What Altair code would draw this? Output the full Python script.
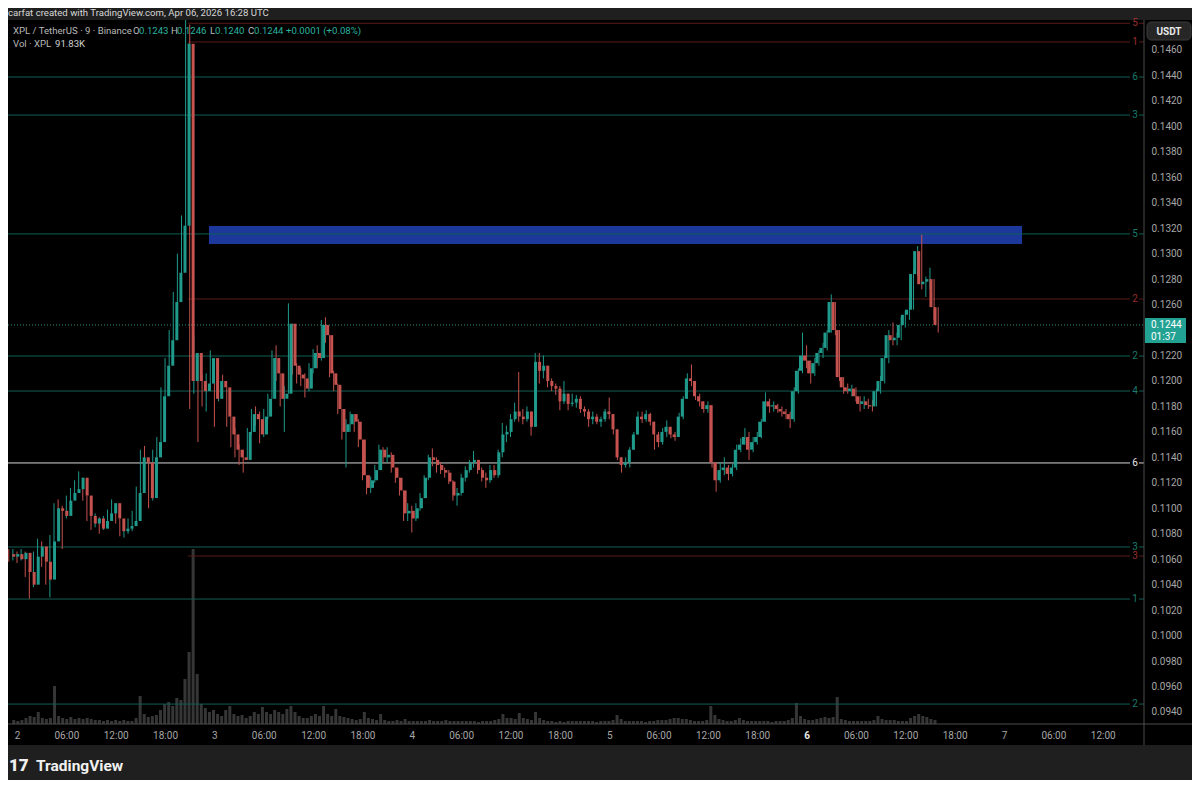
import altair as alt
import pandas as pd

# ---------------- data ----------------
first_open = 0.1064

close = [
    0.1062, 0.1064, 0.1060, 0.1065, 0.1050, 0.1040, 0.1062, 0.1070, 0.1058, 0.1044,
    0.1074, 0.1100, 0.1098, 0.1094, 0.1106, 0.1112, 0.1115, 0.1124, 0.1110, 0.1094,
    0.1088, 0.1092, 0.1084, 0.1090, 0.1096, 0.1104, 0.1092, 0.1082, 0.1084, 0.1086,
    0.1090, 0.1112, 0.1140, 0.1136, 0.1108, 0.1140, 0.1152, 0.1188, 0.1212, 0.1232,
    0.1262, 0.1285, 0.1322, 0.1465, 0.1200, 0.1222, 0.1200, 0.1192, 0.1198, 0.1218,
    0.1186, 0.1200, 0.1195, 0.1172, 0.1158, 0.1146, 0.1140, 0.1138, 0.1160, 0.1174,
    0.1170, 0.1158, 0.1172, 0.1186, 0.1218, 0.1206, 0.1186, 0.1190, 0.1245, 0.1212,
    0.1205, 0.1202, 0.1194, 0.1210, 0.1222, 0.1218, 0.1244, 0.1236, 0.1206, 0.1197,
    0.1178, 0.1160, 0.1166, 0.1174, 0.1168, 0.1154, 0.1126, 0.1116, 0.1122, 0.1130,
    0.1146, 0.1140, 0.1142, 0.1132, 0.1124, 0.1114, 0.1096, 0.1098, 0.1092, 0.1100,
    0.1108, 0.1124, 0.1140, 0.1138, 0.1134, 0.1130, 0.1128, 0.1121, 0.1110, 0.1112,
    0.1124, 0.1130, 0.1136, 0.1138, 0.1130, 0.1124, 0.1122, 0.1130, 0.1126, 0.1144,
    0.1158, 0.1160, 0.1170, 0.1176, 0.1172, 0.1170, 0.1176, 0.1164, 0.1215, 0.1208,
    0.1212, 0.1200, 0.1196, 0.1194, 0.1184, 0.1190, 0.1182, 0.1183, 0.1186, 0.1178,
    0.1176, 0.1170, 0.1172, 0.1168, 0.1170, 0.1176, 0.1174, 0.1162, 0.1140, 0.1134,
    0.1136, 0.1146, 0.1158, 0.1172, 0.1170, 0.1174, 0.1168, 0.1158, 0.1152, 0.1160,
    0.1164, 0.1158, 0.1156, 0.1172, 0.1186, 0.1202, 0.1200, 0.1188, 0.1184, 0.1178,
    0.1181, 0.1136, 0.1122, 0.1130, 0.1132, 0.1127, 0.1132, 0.1146, 0.1150, 0.1156,
    0.1146, 0.1152, 0.1156, 0.1168, 0.1184, 0.1180, 0.1181, 0.1178, 0.1176, 0.1174,
    0.1170, 0.1192, 0.1208, 0.1220, 0.1216, 0.1206, 0.1214, 0.1222, 0.1226, 0.1238,
    0.1262, 0.1240, 0.1203, 0.1195, 0.1192, 0.1194, 0.1188, 0.1182, 0.1184, 0.1181,
    0.1180, 0.1192, 0.1200, 0.1218, 0.1236, 0.1232, 0.1234, 0.1244, 0.1252, 0.1256,
    0.1284, 0.1302, 0.1276, 0.1278, 0.1280, 0.1258, 0.1244,
]

high = [
    0.1068, 0.1068, 0.1066, 0.1068, 0.1066, 0.1052, 0.1066, 0.1076, 0.1074, 0.1058,
    0.1079, 0.1104, 0.1107, 0.1102, 0.1110, 0.1116, 0.1122, 0.1129, 0.1124, 0.1106,
    0.1096, 0.1096, 0.1093, 0.1094, 0.1099, 0.1107, 0.1104, 0.1092, 0.1088, 0.1092,
    0.1098, 0.1117, 0.1146, 0.1149, 0.1132, 0.1146, 0.1156, 0.1195, 0.1218, 0.1240,
    0.1270, 0.1300, 0.1330, 0.1485, 0.1480, 0.1236, 0.1212, 0.1205, 0.1206, 0.1224,
    0.1218, 0.1208, 0.1205, 0.1192, 0.1168, 0.1163, 0.1150, 0.1146, 0.1163, 0.1178,
    0.1180, 0.1176, 0.1178, 0.1190, 0.1224, 0.1228, 0.1200, 0.1196, 0.1261, 0.1245,
    0.1214, 0.1210, 0.1206, 0.1214, 0.1225, 0.1228, 0.1248, 0.1250, 0.1236, 0.1208,
    0.1198, 0.1176, 0.1170, 0.1176, 0.1174, 0.1170, 0.1150, 0.1124, 0.1125, 0.1134,
    0.1150, 0.1148, 0.1148, 0.1144, 0.1132, 0.1124, 0.1114, 0.1104, 0.1102, 0.1104,
    0.1112, 0.1126, 0.1142, 0.1147, 0.1140, 0.1136, 0.1132, 0.1130, 0.1122, 0.1116,
    0.1127, 0.1133, 0.1138, 0.1145, 0.1138, 0.1132, 0.1128, 0.1134, 0.1134, 0.1146,
    0.1167, 0.1165, 0.1174, 0.1183, 0.1207, 0.1178, 0.1180, 0.1176, 0.1222, 0.1222,
    0.1220, 0.1212, 0.1202, 0.1198, 0.1196, 0.1200, 0.1190, 0.1190, 0.1189, 0.1188,
    0.1180, 0.1178, 0.1176, 0.1174, 0.1172, 0.1178, 0.1187, 0.1174, 0.1162, 0.1140,
    0.1140, 0.1148, 0.1160, 0.1176, 0.1176, 0.1177, 0.1175, 0.1168, 0.1160, 0.1163,
    0.1169, 0.1164, 0.1160, 0.1175, 0.1188, 0.1206, 0.1213, 0.1200, 0.1190, 0.1184,
    0.1184, 0.1180, 0.1136, 0.1136, 0.1140, 0.1134, 0.1135, 0.1150, 0.1155, 0.1163,
    0.1160, 0.1156, 0.1160, 0.1170, 0.1191, 0.1186, 0.1184, 0.1182, 0.1180, 0.1178,
    0.1176, 0.1195, 0.1210, 0.1238, 0.1228, 0.1216, 0.1218, 0.1224, 0.1230, 0.1240,
    0.1268, 0.1262, 0.1240, 0.1203, 0.1198, 0.1197, 0.1195, 0.1188, 0.1188, 0.1186,
    0.1185, 0.1194, 0.1204, 0.1220, 0.1240, 0.1246, 0.1238, 0.1250, 0.1255, 0.1265,
    0.1288, 0.1306, 0.1315, 0.1282, 0.1289, 0.1280, 0.1258,
]

low = [
    0.1058, 0.1059, 0.1057, 0.1059, 0.1046, 0.1029, 0.1038, 0.1058, 0.1054, 0.1040,
    0.1030, 0.1074, 0.1090, 0.1068, 0.1092, 0.1103, 0.1108, 0.1112, 0.1106, 0.1090,
    0.1083, 0.1085, 0.1080, 0.1083, 0.1086, 0.1094, 0.1088, 0.1078, 0.1077, 0.1080,
    0.1082, 0.1090, 0.1110, 0.1128, 0.1100, 0.1106, 0.1128, 0.1150, 0.1186, 0.1206,
    0.1230, 0.1256, 0.1282, 0.1318, 0.1178, 0.1190, 0.1152, 0.1180, 0.1176, 0.1195,
    0.1164, 0.1184, 0.1186, 0.1164, 0.1148, 0.1140, 0.1134, 0.1128, 0.1140, 0.1158,
    0.1165, 0.1151, 0.1156, 0.1170, 0.1186, 0.1200, 0.1180, 0.1160, 0.1190, 0.1205,
    0.1198, 0.1196, 0.1187, 0.1192, 0.1206, 0.1210, 0.1216, 0.1230, 0.1203, 0.1192,
    0.1174, 0.1154, 0.1132, 0.1160, 0.1160, 0.1148, 0.1122, 0.1111, 0.1112, 0.1120,
    0.1130, 0.1136, 0.1136, 0.1128, 0.1120, 0.1110, 0.1090, 0.1090, 0.1081, 0.1090,
    0.1098, 0.1108, 0.1122, 0.1133, 0.1128, 0.1127, 0.1124, 0.1119, 0.1106, 0.1102,
    0.1110, 0.1121, 0.1128, 0.1132, 0.1127, 0.1121, 0.1116, 0.1120, 0.1124, 0.1124,
    0.1140, 0.1152, 0.1156, 0.1168, 0.1168, 0.1166, 0.1168, 0.1157, 0.1164, 0.1198,
    0.1202, 0.1195, 0.1192, 0.1189, 0.1177, 0.1182, 0.1177, 0.1180, 0.1179, 0.1175,
    0.1172, 0.1164, 0.1166, 0.1166, 0.1164, 0.1168, 0.1170, 0.1158, 0.1138, 0.1128,
    0.1132, 0.1132, 0.1146, 0.1158, 0.1167, 0.1168, 0.1165, 0.1146, 0.1148, 0.1150,
    0.1156, 0.1155, 0.1153, 0.1156, 0.1170, 0.1186, 0.1196, 0.1185, 0.1180, 0.1175,
    0.1175, 0.1132, 0.1113, 0.1120, 0.1126, 0.1122, 0.1125, 0.1130, 0.1144, 0.1150,
    0.1138, 0.1144, 0.1150, 0.1155, 0.1168, 0.1175, 0.1176, 0.1175, 0.1172, 0.1170,
    0.1163, 0.1168, 0.1190, 0.1206, 0.1210, 0.1198, 0.1204, 0.1212, 0.1218, 0.1224,
    0.1240, 0.1236, 0.1200, 0.1190, 0.1190, 0.1188, 0.1184, 0.1176, 0.1178, 0.1178,
    0.1176, 0.1180, 0.1190, 0.1198, 0.1214, 0.1228, 0.1228, 0.1232, 0.1242, 0.1248,
    0.1256, 0.1282, 0.1272, 0.1266, 0.1272, 0.1248, 0.1238,
]

volume = [
    4, 3, 4, 6, 8, 7, 12, 6, 5, 6,
    38, 8, 6, 5, 7, 5, 6, 5, 6, 5,
    4, 4, 3, 4, 3, 4, 3, 4, 3, 3,
    6, 28, 10, 7, 8, 9, 14, 20, 22, 18,
    26, 24, 45, 72, 175, 50, 20, 16, 12, 14,
    10, 8, 14, 18, 10, 8, 9, 6, 8, 12,
    10, 17, 12, 10, 14, 12, 10, 15, 18, 12,
    8, 6, 6, 8, 10, 8, 18, 10, 8, 15,
    8, 7, 6, 5, 4, 5, 12, 6, 5, 4,
    10, 4, 3, 3, 4, 3, 5, 3, 3, 3,
    3, 3, 4, 3, 3, 3, 4, 3, 3, 3,
    3, 3, 3, 3, 2, 3, 3, 3, 4, 5,
    10, 6, 6, 5, 11, 6, 5, 4, 12, 6,
    4, 3, 3, 2, 3, 2, 3, 3, 3, 3,
    3, 3, 3, 2, 3, 3, 3, 4, 9, 5,
    3, 3, 3, 3, 3, 2, 3, 3, 4, 4,
    4, 5, 6, 6, 5, 5, 4, 3, 3, 3,
    4, 18, 9, 5, 4, 3, 3, 4, 6, 4,
    3, 3, 3, 3, 3, 3, 2, 3, 3, 3,
    4, 6, 21, 8, 5, 4, 4, 5, 6, 7,
    6, 7, 27, 5, 4, 3, 3, 3, 3, 3,
    3, 4, 8, 5, 4, 4, 4, 3, 3, 3,
    6, 8, 10, 8, 7, 5, 4,
]

# horizontal levels drawn on the chart
level_price = [0.14810, 0.14663, 0.14388, 0.14089, 0.13155, 0.12644, 0.12196,
               0.11921, 0.11356, 0.10696, 0.10625, 0.10287, 0.09462]
level_label = ["5", "1", "6", "3", "5", "2", "2", "4", "6", "3", "3", "1", "2"]
level_kind = ["red", "red", "green", "green", "green", "red", "green",
              "green", "white", "green", "red", "green", "green"]
level_from_hour = [20.8, 20.8, -1.2, -1.2, -1.2, 20.8, -1.2,
                   -1.2, -1.2, -1.2, 20.8, -1.2, -1.2]

zone_low, zone_high = 0.13076, 0.13218
zone_from_hour, zone_to_hour = 23.34, 122.19

last_price = 0.1244
countdown = "01:37"

# 0.1240 is hidden behind the last-price badge in the reference
price_ticks = [0.094, 0.096, 0.098, 0.100, 0.102, 0.104, 0.106, 0.108, 0.110,
               0.112, 0.114, 0.116, 0.118, 0.120, 0.122, 0.126, 0.128,
               0.130, 0.132, 0.134, 0.136, 0.138, 0.140, 0.142, 0.144, 0.146]
time_ticks = [0, 6, 12, 18, 24, 30, 36, 42, 48, 54, 60, 66, 72, 78, 84, 90,
              96, 102, 108, 114, 120, 126, 132]
today_tick = 96

# ---------------- styling / layout ----------------
FONT = "Roboto"
GREEN, RED = "#1f9a8b", "#c4524f"
LINE_COL = {"green": "#115f55", "red": "#5c1b1b", "white": "#d6d6d6"}
TEXT_COL = {"green": "#1a7a6b", "red": "#9a2e2e", "white": "#e6e6e6"}
FRAME = "#1f1f1f"
PAGE = 8              # page margin: the chart's top-left sits at (8, 8)
OX, OY = 8, 20        # page position of the plot's top-left corner
W, H = 1136, 704      # plot area (page x 8..1144, y 20..724)

XSCALE = alt.Scale(domain=[-1.0942, 137.02], nice=False, zero=False)
YSCALE = alt.Scale(domain=[0.0930542, 0.1483566], nice=False, zero=False)

n = len(close)
assert len(high) == n and len(low) == n and len(volume) == n
times = pd.date_range("2026-04-01 23:00", periods=n, freq="30min")
hours = ((times - pd.Timestamp("2026-04-02 00:00")) / pd.Timedelta(hours=1)).tolist()
opens = [first_open] + close[:-1]

candles = pd.DataFrame({"hour": hours, "open": opens, "close": close,
                        "high": high, "low": low, "volume": volume})
candles["dir"] = ["up" if c >= o else "down" for o, c in zip(opens, close)]
candles["hi"] = candles[["high", "open", "close"]].max(axis=1)
candles["lo"] = candles[["low", "open", "close"]].min(axis=1)

levels = pd.DataFrame({"price": level_price, "label": level_label,
                       "kind": level_kind, "start": level_from_hour})
levels["lcol"] = levels["kind"].map(LINE_COL)
levels["tcol"] = levels["kind"].map(TEXT_COL)

zone_df = pd.DataFrame({"x0": [zone_from_hour], "x1": [zone_to_hour],
                        "y0": [zone_low], "y1": [zone_high]})
cur_df = pd.DataFrame({"price": [last_price], "txt": [f"{last_price:.4f}"]})
ONE = pd.DataFrame({"k": [0]})

DIRCOL = alt.Scale(domain=["up", "down"], range=[GREEN, RED])


def xq(field):
    return alt.X(field, scale=XSCALE, axis=None, title=None)


def yq(field):
    return alt.Y(field, scale=YSCALE, axis=None, title=None)


def box(x0, x1, y0, y1, color, **kw):
    return alt.Chart(ONE).mark_rect(color=color, **kw).encode(
        x=alt.value(x0 - OX), x2=alt.value(x1 - OX),
        y=alt.value(y0 - OY), y2=alt.value(y1 - OY))


def txt(s, x, y, color, size=10, weight="normal", align="left"):
    return alt.Chart(ONE).mark_text(
        font=FONT, fontSize=size, fontWeight=weight, align=align,
        baseline="middle", color=color).encode(
        x=alt.value(x - OX), y=alt.value(y - OY), text=alt.value(s))


# grey frame bands above and below the black chart pane
frame = [
    box(PAGE, 1192, PAGE, 20, FRAME),
    box(PAGE, 1192, 745, 780, FRAME),
]

vol = alt.Chart(candles).mark_bar(size=3, color="#363636", clip=True).encode(
    x=xq("hour:Q"),
    y=alt.Y("volume:Q", scale=alt.Scale(domain=[0, H], nice=False), axis=None),
)

zone = alt.Chart(zone_df).mark_rect(color="#1b389a", clip=True).encode(
    x=xq("x0:Q"), x2="x1:Q", y=yq("y0:Q"), y2="y1:Q")

lines = alt.Chart(levels).mark_rule(strokeWidth=1, clip=True).encode(
    x=xq("start:Q"), x2=alt.value(1130 - OX), y=yq("price:Q"),
    color=alt.Color("lcol:N", scale=None))

line_ticks = alt.Chart(levels).mark_rule(strokeWidth=1).encode(
    x=alt.value(1139 - OX), x2=alt.value(1144 - OX), y=yq("price:Q"),
    color=alt.Color("lcol:N", scale=None))

line_labels = alt.Chart(levels).mark_text(
    font=FONT, fontSize=10, align="center", baseline="middle").encode(
    x=alt.value(1135 - OX), y=yq("price:Q"), text="label:N",
    color=alt.Color("tcol:N", scale=None))

dotted = alt.Chart(cur_df).mark_rule(strokeDash=[1, 2], color="#2a8f83",
                                     strokeWidth=1).encode(
    x=alt.value(0), x2=alt.value(W), y=yq("price:Q"))

x_axis = alt.Axis(
    values=time_ticks, orient="bottom", domain=False, ticks=False, grid=False,
    labelExpr="datum.value % 24 == 0 ? format(2 + datum.value / 24, 'd') : "
              "(datum.value % 24 < 10 ? '0' : '') + format(datum.value % 24, 'd') + ':00'",
    labelFont=FONT, labelFontSize=10,
    labelColor={"condition": {"test": f"datum.value == {today_tick}", "value": "#e8e8e8"},
                "value": "#a6a6a6"},
    labelFontWeight={"condition": {"test": f"datum.value == {today_tick}", "value": "bold"},
                     "value": "normal"},
    labelPadding=11, labelBaseline="middle", labelFlush=False,
    labelOverlap=False, title=None)

y_axis = alt.Axis(
    values=price_ticks, orient="right", format=".4f", domain=False, ticks=False,
    grid=False, labelFont=FONT, labelFontSize=10, labelColor="#a6a6a6",
    labelPadding=7, labelOverlap=False, labelFlush=False, title=None)

wick = alt.Chart(candles).mark_rule(strokeWidth=1, clip=True).encode(
    x=alt.X("hour:Q", scale=XSCALE, axis=x_axis, title=None),
    y=alt.Y("lo:Q", scale=YSCALE, axis=y_axis, title=None),
    y2="hi:Q",
    color=alt.Color("dir:N", scale=DIRCOL, legend=None))

body = alt.Chart(candles).mark_bar(size=3, clip=True).encode(
    x=xq("hour:Q"), y=yq("open:Q"), y2="close:Q",
    color=alt.Color("dir:N", scale=DIRCOL, legend=None))

separators = [
    alt.Chart(ONE).mark_rule(color="#4d4d4d", strokeWidth=1).encode(
        x=alt.value(1144 - OX), y=alt.value(0), y2=alt.value(745 - OY)),
    alt.Chart(ONE).mark_rule(color="#4d4d4d", strokeWidth=1).encode(
        x=alt.value(0), x2=alt.value(1192 - OX), y=alt.value(H)),
]

price_box = alt.Chart(cur_df).mark_rect(color="#22a293", yOffset=-7, y2Offset=18).encode(
    x=alt.value(1145 - OX), x2=alt.value(1186 - OX), y=yq("price:Q"), y2="price:Q")
price_txt = alt.Chart(cur_df).mark_text(
    font=FONT, fontSize=10, color="#ffffff", align="left", baseline="middle").encode(
    x=alt.value(1151 - OX), y=yq("price:Q"), text="txt:N")
count_txt = alt.Chart(cur_df).mark_text(
    font=FONT, fontSize=10, color="#ffffff", align="left", baseline="middle",
    dy=12.5).encode(x=alt.value(1151 - OX), y=yq("price:Q"), text=alt.value(countdown))

usdt = [
    box(1147, 1191, 22, 40, "#262626", cornerRadius=4, stroke="#3a3a3a", strokeWidth=1),
    txt("USDT", 1169, 31.5, "#e8e8e8", size=10, weight="bold", align="center"),
]

teal = "#2bb39f"
grey = "#b8b8b8"
header = [
    txt("carfat created with TradingView.com, Apr 06, 2026 16:28 UTC", 8, 13, "#d6d6d6", 9.6),
    txt("XPL / TetherUS · 9 · Binance", 13, 30.5, grey, 9.6),
    txt("O", 133, 30.5, grey, 9.6), txt("0.1243", 139, 30.5, teal, 9.6),
    txt("H", 171, 30.5, grey, 9.6), txt("0.1246", 177, 30.5, teal, 9.6),
    txt("L", 210, 30.5, grey, 9.6), txt("0.1240", 215, 30.5, teal, 9.6),
    txt("C", 248, 30.5, grey, 9.6), txt("0.1244", 254, 30.5, teal, 9.6),
    txt("+0.0001 (+0.08%)", 286, 30.5, teal, 9.6),
    txt("Vol · XPL", 13, 43.5, grey, 9.6),
    txt("91.83K", 55, 43.5, "#d0d0d0", 9.6),
]

footer = [
    txt("17", 9, 766, "#f0f0f0", size=17, weight=900),
    txt("TradingView", 36, 766, "#f0f0f0", size=15.5, weight="bold"),
]

layers = (frame + [vol, zone, lines, dotted, wick, body, line_ticks, line_labels]
          + separators + [price_box, price_txt, count_txt] + usdt + header + footer)

chart = alt.layer(*layers).resolve_scale(
    x="independent", y="independent", color="independent"
).properties(
    width=W, height=H,
    padding={"left": OX - PAGE, "top": OY - PAGE,
             "right": 1192 - OX - W, "bottom": 780 - OY - H},
    autosize=alt.AutoSizeParams(type="none"),
    background="#000000",
).configure_view(stroke=None)

chart.save("out.html", embed_options={"renderer": "svg", "actions": False})
